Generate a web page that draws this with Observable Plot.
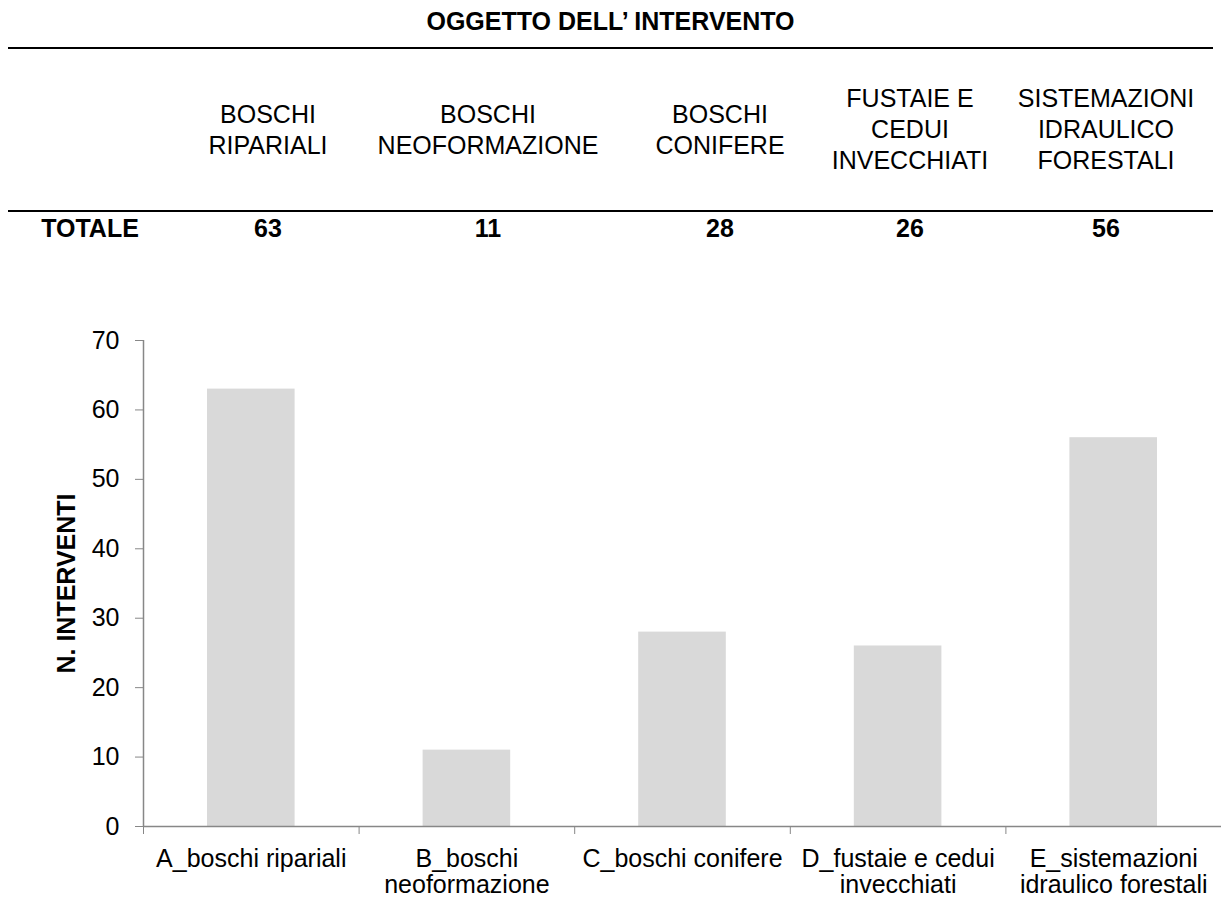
<!DOCTYPE html>
<html>
<head>
<meta charset="utf-8">
<script src="https://cdn.jsdelivr.net/npm/d3@7"></script>
<script src="https://cdn.jsdelivr.net/npm/@observablehq/plot@0.6"></script>
<style>
  html, body { margin: 0; padding: 0; background: #fff; overflow: hidden; }
  body { width: 1221px; height: 901px; position: relative; font-family: "Liberation Sans", Arial, sans-serif; color: #000; }
  #table { position: absolute; left: 0; top: 0; width: 1221px; height: 300px; }
  .title { position: absolute; left: 0; width: 1221px; top: 6px; line-height: 31px; font-size: 25px; font-weight: bold; text-align: center; }
  .rule { position: absolute; left: 8px; width: 1205px; height: 2px; background: #000; }
  .hdr { position: absolute; top: 49px; height: 161px; width: 260px; margin-left: -130px; display: flex; align-items: center; justify-content: center; text-align: center; font-size: 25px; line-height: 31px; }
  .tot { position: absolute; top: 213px; width: 200px; margin-left: -100px; text-align: center; font-size: 25px; line-height: 31px; font-weight: bold; }
  #chart { position: absolute; left: 0; top: 300px; }
  #chart [aria-label="y-axis label"] { font-weight: bold; }
</style>
</head>
<body>
<div id="table"></div>
<div id="chart"></div>
<script>
// ---- data ----
const tableTitle = "OGGETTO DELL\u2019 INTERVENTO";
const rowLabel = "TOTALE";
const headers = ["BOSCHI\nRIPARIALI", "BOSCHI\nNEOFORMAZIONE", "BOSCHI\nCONIFERE", "FUSTAIE E\nCEDUI\nINVECCHIATI", "SISTEMAZIONI\nIDRAULICO\nFORESTALI"];
const categories = ["A_boschi ripariali", "B_boschi\nneoformazione", "C_boschi conifere", "D_fustaie e cedui\ninvecchiati", "E_sistemazioni\nidraulico forestali"];
const values = [63, 11, 28, 26, 56];
const yTicks = [0, 10, 20, 30, 40, 50, 60, 70];
const yLabel = "N. INTERVENTI";

// ---- layout (style only) ----
const colCenters = [90, 268, 488, 720, 910, 1106];

// ---- table (HTML) ----
const tbl = document.getElementById("table");
function add(cls, text, style) {
  const d = document.createElement("div");
  d.className = cls;
  if (text != null) d.innerHTML = text.split("\n").join("<br>");
  Object.assign(d.style, style || {});
  tbl.appendChild(d);
  return d;
}
add("title", tableTitle);
add("rule", null, {top: "47px"});
add("rule", null, {top: "210px"});
headers.forEach((h, i) => add("hdr", h, {left: colCenters[i + 1] + "px"}));
add("tot", rowLabel, {left: colCenters[0] + "px"});
values.forEach((v, i) => add("tot", String(v), {left: colCenters[i + 1] + "px"}));

// ---- chart ----
const data = categories.map((c, i) => ({category: c, value: values[i], i}));
const grey = "#878787";

const chart = Plot.plot({
  width: 1221,
  height: 601,
  marginTop: 40,
  marginBottom: 75,
  marginLeft: 143,
  marginRight: 0,
  style: {fontSize: "25px", fontFamily: "'Liberation Sans', Arial, sans-serif", color: "#000", background: "#fff", overflow: "visible"},
  x: {type: "linear", domain: [0, categories.length]},
  y: {domain: [0, 70]},
  marks: [
    Plot.rectY(data, {x1: d => d.i, x2: d => d.i + 1, y: "value", fill: "#d9d9d9", insetLeft: 64, insetRight: 64}),
    Plot.axisY({ticks: yTicks, tickSize: 8, tickPadding: 16, stroke: grey, fill: "#000",
      label: yLabel, labelAnchor: "center", labelArrow: "none", labelOffset: 86}),
    Plot.axisX({ticks: d3.range(categories.length + 1), tickSize: 8, tickFormat: () => "", stroke: grey, label: null}),
    Plot.ruleX([0], {stroke: grey, strokeWidth: 1.5}),
    Plot.ruleY([0], {stroke: grey, strokeWidth: 1.5}),
    Plot.text(data, {x: d => d.i + 0.5, y: d => 0, text: "category", lineAnchor: "top", dy: 22, lineHeight: 1.04, fill: "#000"})
  ]
});
document.getElementById("chart").appendChild(chart);
</script>
</body>
</html>
